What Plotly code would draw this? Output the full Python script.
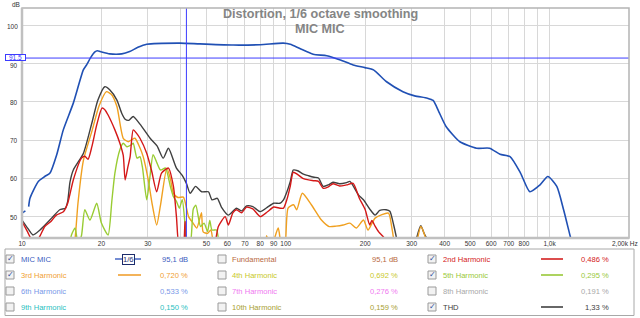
import plotly.graph_objects as go

# ---------------- data (frequency in Hz, level in dB) ----------------
mic_f = [10, 10.3, None, 10.6, 10.72, 11.53, 12.2, 12.77, 13.54, 14.34, 15.65, 17.08, 17.6, 18.2, 18.9, 19.3,
         19.8, 21.5, 23.9, 25.6, 27.5, 29.7, 39.7, 47.2, 63.2, 80, 97.8, 104, 113, 127, 143, 161, 180,
         199.5, 215, 241, 278, 308, 344, 362, 380, 405, 457, 529, 592, 649, 708, 776, 842, 920, 985,
         1065, 1130, 1198, 1250]
mic_db = [50.9, 51.5, None, 52.6, 54.8, 59.2, 60.5, 61.4, 66.2, 72.7, 79.7, 88.4, 89.8, 91.6, 93.1, 93.4,
          93.2, 92.6, 92.6, 93.2, 94.3, 95.1, 95.4, 95.2, 94.9, 95.0, 95.4, 95.1, 94.0, 92.5, 92.1, 91.0, 89.7,
          89.0, 88.4, 85.3, 82.7, 81.6, 81.0, 80.4, 77.5, 73.6, 69.6, 67.9, 67.9, 66.3, 65.7, 61.4, 56.5, 58.3, 60.5,
          57.9, 51.8, 44.8, 40]

thd_f = [10, 10.5, 11.0, 11.7, 12.95, 13.9, 14.6, 14.9, 15.2, 15.65, 17.1, 18.4, 19.4, 20.6, 21.5, 22.9,
         23.9, 24.6, 25.4, 26.4, 28.0, 30.6, 32.5, 34.3, 35.9, 38.5, 40.5, 42, 43.4, 45.5, 48, 50.9, 52.5,
         55, 57, 60.6, 65, 68, 71, 75, 80, 85, 90, 95, 98, 101, 104, 106.7, 111, 116, 122, 128, 133,
         138.6, 145, 151, 160, 170, 175, 188.5, 197, 208, 218, 227, 240, 248, 256, 263, 270, None,
         305, 313, 325, 335, 350, 360]
thd_db = [49.1, 47.0, 45.2, 46.5, 49.6, 51.8, 52.2, 54.0, 59.0, 62.2, 66.6, 74.5, 80.5, 84.0, 83.2, 80.5,
          77.0, 75.5, 75.2, 76.2, 74.2, 70.5, 68.5, 65.3, 67.9, 62.7, 60.8, 58.7, 56.1, 57.9, 56.5, 56.5, 54.4,
          54.8, 52.5, 50.4, 52.2, 51.5, 52.8, 52.6, 51.3, 52.4, 53.5, 53.5, 54.4, 56.5, 59.2, 62.2, 62.0, 61.2,
          60.7, 60.3, 60.1, 57.9, 58.3, 59.0, 58.6, 58.9, 59.2, 55.7, 54.4, 52.0, 50.4, 51.6, 51.8, 51.4, 48.0,
          44.3, 40, None, 40, 44.3, 47.6, 45.5, 43, 40]

h2_f = [10, 10.5, 11.0, 11.6, 12.2, 12.9, 13.5, 14.35, 14.9, 15.65, 16.8, 17.3, 17.8, 18.4, 19.2, 20.1,
        20.6, 21.2, 22.5, 23.5, 24.2, 24.6, 25.2, 25.7, 26.4, 27.2, 28, 29.7, 31, 32.4, 33.8, 35.9, 37.5,
        38.5, 39.5, 40.8, 41.5, 42.2, 53, 55.5, 58.9, 60.6, 63, 65, 68, 71, 75, 80, 85, 90, 95, 98, 101,
        104, 106.7, 111, 116, 122, 128, 133, 138.6, 145, 151, 160, 170, 180, 190, 200, 208, 212, 218,
        225, 237, 245]
h2_db = [48.7, 46.0, 43.5, 44.5, 47.4, 48.8, 50.4, 51.3, 53.5, 59.6, 65.3, 65.8, 65.0, 68.3, 74.0, 78.4,
         78.0, 76.6, 72.7, 69.2, 66.0, 59.6, 63.0, 65.7, 72.7, 71.8, 70.5, 66.6, 62.0, 56.5, 61.4, 62.7, 57.9,
         50.0, 42, 42, 48.7, 42, 42, 47.4, 50.0, 47.8, 51.0, 51.8, 51.0, 52.5, 52.0, 50.0, 51.2, 52.5, 52.2,
         52.2, 54.5, 58.0, 61.6, 61.0, 60.0, 59.6, 59.4, 59.2, 57.4, 57.8, 58.6, 58.0, 58.3, 58.7, 54.8, 51.8,
         47.8, 49.0, 47.5, 46.0, 44.3, 41]

h3_f = [15.5, 15.9, 16.3, 17.1, 18.4, 19.6, 20.9, 21.8, 22.9, 24.2, 25.3, 26.0, 26.8, 27.8, 28.8, 30.1,
        31.2, 32.4, 33.5, 35.4, 36.5, 37.5, 39, 40.9, 42.8, 44.5, 46, 47.9, 48.6, 50.5, 52, 54, 84, 84.5,
        88, 93.6, 96.5, 99, 102, 107, 110, 115.5, 125, 136.5, 146, 155, 165, 175, 185, 197, 205, 218,
        245, 252, 260, 270, None, 305, 313, 325, 340, 350]
h3_db = [40, 44.4, 53.5, 64.8, 72.3, 79.0, 82.7, 82.0, 78.8, 70.5, 69.6, 70.1, 70.5, 68.5, 65.7, 59.6,
         53.0, 47.8, 53.0, 62.7, 60.0, 56.1, 55.0, 55.1, 50.0, 48.3, 47.0, 51.0, 46.0, 45.6, 46.5, 42, 40, 45.0,
         42, 47.0, 42, 42, 52.2, 53.1, 51.8, 56.1, 53.1, 49.1, 47.4, 47.5, 47.8, 48.3, 47.0, 49.1, 46.5, 49.6,
         50.9, 47.4, 42, 40, None, 40, 43, 47.4, 44, 40]

h5_f = [15.0, 15.4, 15.9, 16.3, 16.8, 17.3, 18.1, 19.2, 20.0, 21.2, 21.9, 22.5, 23.5, 24.2, 25.0, 26.0,
        26.4, 27.3, 28.0, 28.6, 29.7, 30.5, 31.4, 32.5, 33.5, 35.0, 36.5, 37.5, 38.5, 39.5, 40.5, 41.5,
        42.2, 43.4, 44.6, 45.6, 47.5, 49, 50.5, 51.5, 52.5, 54.7, 56, 58]
h5_db = [40, 45.2, 47.0, 43.0, 45.0, 51.8, 49.1, 53.5, 48.3, 45.2, 54.0, 61.4, 67.5, 69.2, 68.3, 68.8,
         69.2, 65.3, 65.7, 63.0, 54.4, 60.0, 66.2, 64.0, 62.2, 62.7, 57.9, 55.2, 54.0, 52.2, 54.4, 48.0,
         43.0, 43.0, 52.0, 53.0, 47.4, 48.3, 46.1, 49.0, 46.5, 46.5, 42, 40]

x_tickvals = [10, 20, 30, 40, 50, 60, 70, 80, 90, 100, 200, 300, 400, 500, 600, 700, 800, 900, 1000, 2000]
x_ticktext = ["10", "20", "30", "", "50", "60", "70", "80", "90", "100", "200", "300", "400", "500",
              "600", "700", "800", "", "1,0k", ""]
y_tickvals = [50, 60, 70, 80, 90, 100]
y_ticktext = ["50", "60", "70", "80", "90", "100"]

cursor_f = 42.0
cursor_db = 91.5

legend_labels = [["MIC MIC", "Fundamental", "2nd Harmonic"],
                 ["3rd Harmonic", "4th Harmonic", "5th Harmonic"],
                 ["6th Harmonic", "7th Harmonic", "8th Harmonic"],
                 ["9th Harmonic", "10th Harmonic", "THD"]]
legend_values = [["95,1 dB", "95,1 dB", "0,486 %"],
                 ["0,720 %", "0,692 %", "0,295 %"],
                 ["0,533 %", "0,276 %", "0,191 %"],
                 ["0,150 %", "0,159 %", "1,33 %"]]
legend_checked = [[True, False, True],
                  [True, False, True],
                  [False, False, False],
                  [False, False, True]]
legend_colors = [["#3a5cc0", "#b8683e", "#d42020"],
                 ["#f0a030", "#c8c828", "#98c838"],
                 ["#7898e8", "#f078f0", "#a8a8a8"],
                 ["#28c0c0", "#a8a030", "#404040"]]

# ---------------- figure ----------------
W, H = 640, 318
L, R, T, B = 22, 629, 8, 238


def px(x):
    return (x - L) / (R - L)


def py(y):
    return (B - y) / (B - T)


FONT = "Liberation Sans, Arial, sans-serif"

fig = go.Figure()

series = [
    (thd_f, thd_db, "#404040", 1.4),
    (h3_f, h3_db, "#f0a020", 1.4),
    (h5_f, h5_db, "#99cc33", 1.4),
    (h2_f, h2_db, "#d41818", 1.4),
    (mic_f, mic_db, "#2050b4", 1.6),
]
for xs, ys, col, w in series:
    fig.add_trace(go.Scatter(x=xs, y=ys, mode="lines",
                             line=dict(color=col, width=w, shape="spline", smoothing=0.6),
                             connectgaps=False, hoverinfo="skip", showlegend=False))

shapes = []
annos = []

# cursor lines
shapes.append(dict(type="line", xref="x", yref="paper", x0=cursor_f, x1=cursor_f, y0=0, y1=1,
                   line=dict(color="#3c3cff", width=1)))
shapes.append(dict(type="line", xref="paper", yref="y", x0=0, x1=1, y0=cursor_db, y1=cursor_db,
                   line=dict(color="#3c3cff", width=1)))
# plot frame
shapes.append(dict(type="rect", xref="paper", yref="paper", x0=0, x1=1, y0=0, y1=1,
                   line=dict(color="#b4b4b4", width=1.5)))
shapes.append(dict(type="line", xref="paper", yref="paper", x0=0, x1=0, y0=0, y1=1,
                   line=dict(color="#c0c0c0", width=2.5)))
shapes.append(dict(type="line", xref="paper", yref="paper", x0=0, x1=1, y0=0, y1=0,
                   line=dict(color="#c0c0c0", width=2.5)))

# y tick labels (as annotations so the cursor box does not collide)
for v, t in zip(y_tickvals, y_ticktext):
    yy = v - 0.25 if v == 90 else v
    annos.append(dict(xref="paper", yref="y", x=px(20), y=yy, text=t, showarrow=False,
                      xanchor="right", yanchor="middle", height=6, valign="middle",
                      font=dict(family=FONT, size=6.5, color="#333333")))

# title
annos.append(dict(xref="paper", yref="paper", x=px(320), y=py(14), text="<b>Distortion, 1/6 octave smoothing</b>",
                  showarrow=False, xanchor="center", yanchor="middle",
                  font=dict(family=FONT, size=12.6, color="#858585")))
annos.append(dict(xref="paper", yref="paper", x=px(320), y=py(29), text="<b>MIC MIC</b>",
                  showarrow=False, xanchor="center", yanchor="middle",
                  font=dict(family=FONT, size=12.6, color="#858585")))
# dB label
annos.append(dict(xref="paper", yref="paper", x=px(16), y=py(4), text="dB", showarrow=False,
                  xanchor="center", yanchor="middle", font=dict(family=FONT, size=6.5, color="#333333")))
# Hz end label
annos.append(dict(xref="paper", yref="paper", x=px(640), y=py(243), text="2,00k Hz", showarrow=False,
                  xanchor="right", yanchor="middle", font=dict(family=FONT, size=6.5, color="#333333")))
# cursor value boxes
annos.append(dict(xref="paper", yref="paper", x=px(15.5), y=py(58.0), text="91,5", showarrow=False,
                  xanchor="center", yanchor="middle", bgcolor="white", bordercolor="#3c3cff", borderwidth=1,
                  borderpad=0, width=19, height=5, valign="middle",
                  font=dict(family=FONT, size=6.5, color="#3c3cff")))
annos.append(dict(xref="x", yref="paper", x=cursor_f, y=py(244.5), text="42,0", showarrow=False,
                  xanchor="center", yanchor="middle", bgcolor="white", bordercolor="#3c3cff", borderwidth=1,
                  borderpad=0, width=16, height=8, valign="middle",
                  font=dict(family=FONT, size=6.8, color="#3c3cff")))

# legend panel
shapes.append(dict(type="rect", xref="paper", yref="paper", x0=px(5), x1=px(634), y0=py(249), y1=py(315.5),
                   line=dict(color="#a8a8a8", width=1), fillcolor="white", layer="below"))
row_y = [259, 275, 291, 307]
cb_x = [6, 218, 428]
label_x = [19, 230, 441]
value_x = [190, 400, 611]
line_x = [(118, 141), None, (541, 563)]
for r in range(4):
    for c in range(3):
        yc = row_y[r]
        x0 = cb_x[c]
        shapes.append(dict(type="rect", xref="paper", yref="paper", x0=px(x0), x1=px(x0 + 8),
                           y0=py(yc - 4), y1=py(yc + 4),
                           line=dict(color="#9a9a9a", width=1), fillcolor="#f2f2f2"))
        if legend_checked[r][c]:
            annos.append(dict(xref="paper", yref="paper", x=px(x0 + 4.5), y=py(yc - 0.5), text="✓",
                              showarrow=False, xanchor="center", yanchor="middle",
                              font=dict(family="DejaVu Sans", size=8, color="#2c4c9c")))
        col = legend_colors[r][c]
        annos.append(dict(xref="paper", yref="paper", x=px(label_x[c]), y=py(yc), text=legend_labels[r][c],
                          showarrow=False, xanchor="left", yanchor="middle",
                          font=dict(family=FONT, size=7.6, color=col)))
        annos.append(dict(xref="paper", yref="paper", x=px(value_x[c]), y=py(yc), text=legend_values[r][c],
                          showarrow=False, xanchor="right", yanchor="middle",
                          font=dict(family=FONT, size=7.6, color=col)))
        if legend_checked[r][c] and line_x[c] is not None and not (r == 0 and c == 0):
            lx0, lx1 = line_x[c]
            shapes.append(dict(type="line", xref="paper", yref="paper", x0=px(lx0), x1=px(lx1),
                               y0=py(yc), y1=py(yc), line=dict(color=col, width=1.6)))

# smoothing widget (1/6)
shapes.append(dict(type="line", xref="paper", yref="paper", x0=px(115), x1=px(141), y0=py(259), y1=py(259),
                   line=dict(color="#3a5cc0", width=1.4)))
annos.append(dict(xref="paper", yref="paper", x=px(128), y=py(259), text="1/6", showarrow=False,
                  xanchor="center", yanchor="middle", bgcolor="white", bordercolor="#1c2c6c", borderwidth=1,
                  borderpad=0, font=dict(family=FONT, size=7.6, color="#1c2c6c")))

fig.update_layout(
    width=W, height=H,
    margin=dict(l=L, r=W - R, t=T, b=H - B),
    paper_bgcolor="white", plot_bgcolor="white",
    showlegend=False,
    shapes=shapes, annotations=annos,
    xaxis=dict(type="log", range=[1, 3.30103], tickvals=x_tickvals, ticktext=x_ticktext,
               showgrid=True, gridcolor="#d8d8d8", gridwidth=1, zeroline=False,
               ticks="", tickfont=dict(family=FONT, size=6.5, color="#333333"), ticklabelstandoff=0),
    yaxis=dict(range=[44.4, 104.6], tickvals=y_tickvals, showticklabels=False,
               showgrid=True, gridcolor="#d8d8d8", gridwidth=1, zeroline=False, ticks=""),
)

fig.write_html("out.html")
